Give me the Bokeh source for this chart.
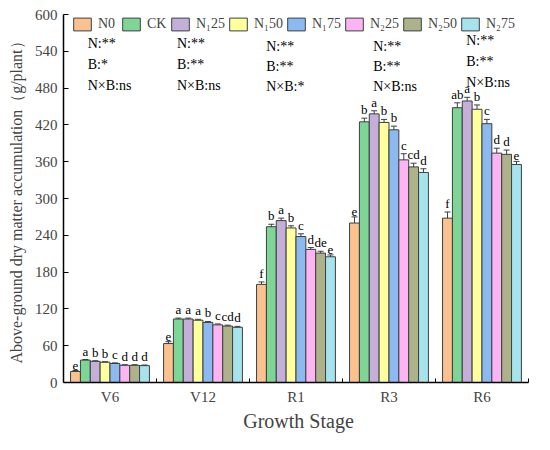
import numpy as np
from bokeh.plotting import figure
from bokeh.models import (ColumnDataSource, Range1d, FixedTicker, Legend, LegendItem,
                          Whisker, TeeHead)
from bokeh.core.properties import value
from bokeh.embed import file_html
from bokeh.resources import INLINE

# ---------------- data ----------------
stages = ["V6", "V12", "R1", "R3", "R6"]
treatments = ["N0", "CK", "N\u208125", "N\u208150", "N\u208175", "N\u208225", "N\u208250", "N\u208275"]

N0   = [18.0, 63.5, 160.0, 260.0, 268.0]
CK   = [36.5, 103.5, 254.0, 425.0, 448.0]
N125 = [34.5, 103.5, 264.0, 438.0, 459.0]
N150 = [33.0, 101.5, 252.0, 424.0, 445.5]
N175 = [31.0, 98.0, 238.0, 412.0, 422.0]
N225 = [28.0, 94.0, 217.0, 363.0, 374.0]
N250 = [28.0, 92.0, 211.0, 351.5, 372.0]
N275 = [27.5, 90.0, 205.0, 342.5, 355.5]

E_N0   = [1.5, 3.0, 4.0, 10.0, 10.0]
E_CK   = [1.0, 1.5, 4.0, 6.0, 8.0]
E_N125 = [1.0, 1.5, 4.0, 5.0, 6.0]
E_N150 = [1.0, 1.5, 3.5, 5.0, 7.0]
E_N175 = [1.0, 1.5, 4.5, 6.0, 7.0]
E_N225 = [1.0, 1.5, 3.0, 10.0, 8.0]
E_N250 = [1.0, 1.5, 3.0, 6.0, 7.0]
E_N275 = [1.0, 1.5, 3.0, 6.0, 5.0]

L_N0   = ["e", "e", "f", "e", "f"]
L_CK   = ["a", "a", "b", "b", "ab"]
L_N125 = ["b", "a", "a", "a", "a"]
L_N150 = ["b", "a", "b", "b", "b"]
L_N175 = ["c", "b", "c", "b", "c"]
L_N225 = ["d", "c", "d", "c", "d"]
L_N250 = ["d", "cd", "de", "cd", "d"]
L_N275 = ["d", "d", "e", "d", "e"]

anova_N = ["N:**", "N:**", "N:**", "N:**", "N:**"]
anova_B = ["B:*", "B:**", "B:**", "B:**", "B:**"]
anova_NB = ["N\u00d7B:ns", "N\u00d7B:ns", "N\u00d7B:*", "N\u00d7B:ns", "N\u00d7B:ns"]

series = [N0, CK, N125, N150, N175, N225, N250, N275]
errors = [E_N0, E_CK, E_N125, E_N150, E_N175, E_N225, E_N250, E_N275]
letters = [L_N0, L_CK, L_N125, L_N150, L_N175, L_N225, L_N250, L_N275]

# ---------------- style ----------------
colors = ["#FBC28F", "#7ED595", "#C5AFD8", "#FFFF9C", "#8CB9F0", "#FCB5F2", "#AEB28B", "#A6E3EC"]
edge = "#3a4040"
FONT = "Liberation Serif"
bw = 0.106

# annotation positions (data coords)
ann_x = [0.76, 1.72, 2.68, 3.83, 4.83]
ann_y1 = [553, 553, 548, 548, 558]
ann_y2 = [519, 519, 515, 515, 524]
ann_y3 = [484, 484, 482, 482, 489]

p = figure(width=534, height=434, output_backend="svg", toolbar_location=None,
           x_range=Range1d(0.5, 5.554), y_range=Range1d(0, 600),
           min_border_left=63, min_border_right=1, min_border_top=14, min_border_bottom=48)
p.outline_line_color = None
p.xgrid.visible = False
p.ygrid.visible = False
p.background_fill_color = "white"

groups = np.arange(1, 6)
items = []
for i, (vals, errs, lets) in enumerate(zip(series, errors, letters)):
    xs = groups + (i - 3.5) * bw
    vals = np.array(vals)
    errs = np.array(errs)
    src = ColumnDataSource(dict(x=xs, top=vals, upper=vals + errs, lower=vals - errs, lab=lets))
    r = p.vbar(x="x", top="top", width=bw, source=src, fill_color=colors[i],
               line_color=edge, line_width=1)
    items.append(LegendItem(label=treatments[i], renderers=[r]))
    w = Whisker(source=src, base="x", upper="upper", lower="lower",
                line_color=edge, line_width=1,
                upper_head=TeeHead(size=6, line_color=edge, line_width=1),
                lower_head=TeeHead(size=6, line_color=edge, line_width=1))
    p.add_layout(w)
    p.text(x="x", y="upper", text="lab", source=src, text_align="center",
           text_baseline="bottom", y_offset=-1, text_font=value(FONT),
           text_font_size="13px", text_color="black")

asrc = ColumnDataSource(dict(x=ann_x, y1=ann_y1, y2=ann_y2, y3=ann_y3,
                             t1=anova_N, t2=anova_B, t3=anova_NB))
for yk, tk in (("y1", "t1"), ("y2", "t2"), ("y3", "t3")):
    p.text(x="x", y=yk, text=tk, source=asrc, text_align="left", text_baseline="middle",
           text_font=value(FONT), text_font_size="14px", text_color="black")

legend = Legend(items=items, orientation="horizontal", location=(8, 350),
                glyph_width=22, glyph_height=16, label_height=16, label_standoff=5,
                spacing=2, padding=0, margin=0, border_line_color=None,
                background_fill_alpha=0, label_text_font=FONT, label_text_font_size="14px",
                label_text_baseline="middle")
p.add_layout(legend)

# axes
xa = p.xaxis[0]
xa.bounds = (0.5, 5.5)
xa.ticker = FixedTicker(ticks=[1, 2, 3, 4, 5], minor_ticks=[1.5, 2.5, 3.5, 4.5, 5.5])
xa.major_label_overrides = {1: "V6", 2: "V12", 3: "R1", 4: "R3", 5: "R6"}
xa.major_tick_in = 0
xa.major_tick_out = 0
xa.minor_tick_in = 4
xa.minor_tick_out = 0
xa.minor_tick_line_color = "black"
xa.axis_label = "Growth Stage"
xa.axis_label_text_font = FONT
xa.axis_label_text_font_style = "normal"
xa.axis_label_text_font_size = "20px"
xa.axis_label_standoff = 2
xa.major_label_text_font = FONT
xa.major_label_text_font_size = "15px"
xa.major_label_standoff = 6
xa.axis_line_width = 1.5
xa.axis_line_color = "black"

ya = p.yaxis[0]
ya.ticker = FixedTicker(ticks=list(range(0, 601, 60)))
ya.major_tick_in = 5
ya.major_tick_out = 0
ya.minor_tick_line_color = None
ya.axis_label = "Above-ground dry matter accumulation\uff08g/plant\uff09"
ya.axis_label_text_font = FONT
ya.axis_label_text_font_style = "normal"
ya.axis_label_text_font_size = "16px"
ya.axis_label_standoff = 7
ya.major_label_text_font = FONT
ya.major_label_text_font_size = "15px"
ya.major_label_standoff = 6
ya.axis_line_width = 1.5
ya.axis_line_color = "black"
ya.major_tick_line_color = "black"

open("out.html", "w").write(file_html(p, INLINE))
